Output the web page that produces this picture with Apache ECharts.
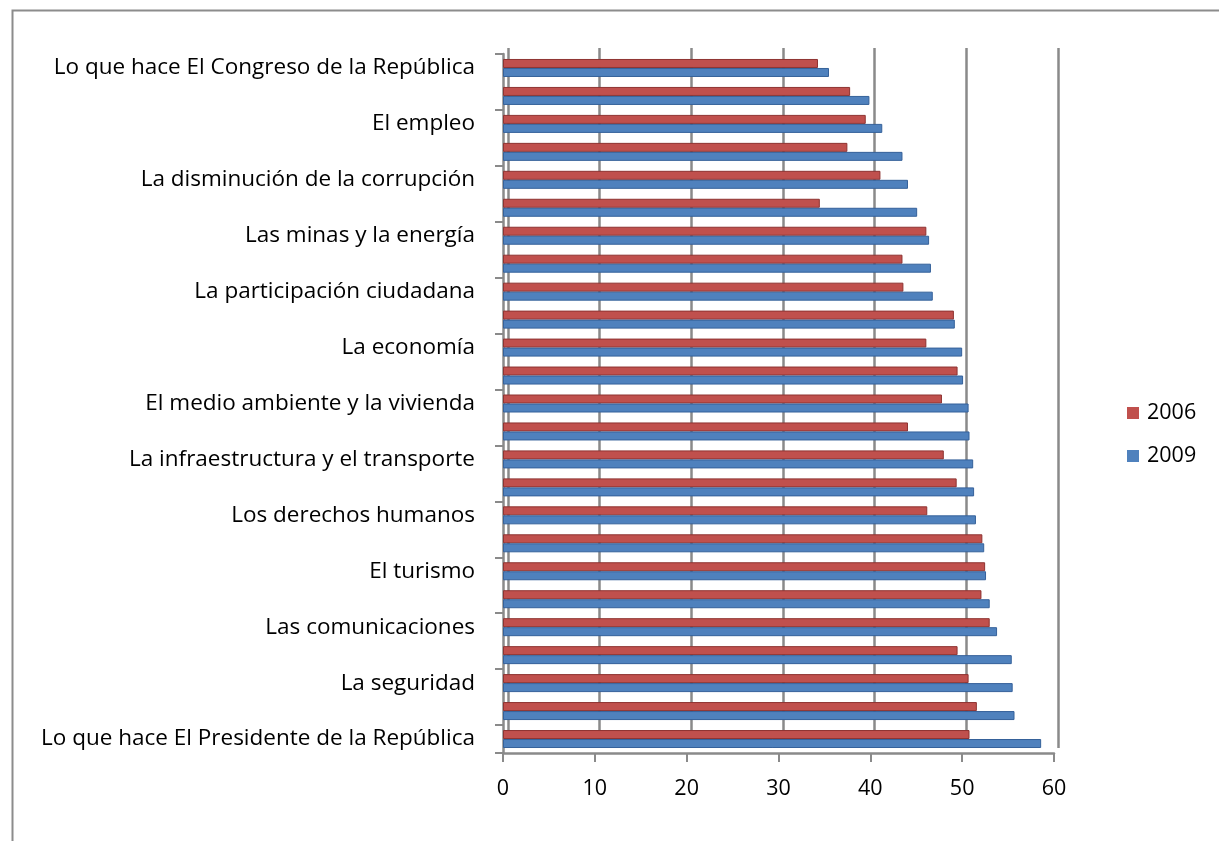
<!DOCTYPE html>
<html>
<head>
<meta charset="utf-8">
<script src="https://cdn.jsdelivr.net/npm/echarts@6/dist/echarts.min.js"></script>
<style>
  html, body { margin: 0; padding: 0; background: #ffffff; }
  #chart { width: 1219px; height: 841px; }
</style>
</head>
<body>
<div id="chart"></div>
<script>
// Categories, top to bottom (only every other one is labelled in the original)
const categories = [
  "Lo que hace El Congreso de la República",
  "Categoría 2",
  "El empleo",
  "Categoría 4",
  "La disminución de la corrupción",
  "Categoría 6",
  "Las minas y la energía",
  "Categoría 8",
  "La participación ciudadana",
  "Categoría 10",
  "La economía",
  "Categoría 12",
  "El medio ambiente y la vivienda",
  "Categoría 14",
  "La infraestructura y el transporte",
  "Categoría 16",
  "Los derechos humanos",
  "Categoría 18",
  "El turismo",
  "Categoría 20",
  "Las comunicaciones",
  "Categoría 22",
  "La seguridad",
  "Categoría 24",
  "Lo que hace El Presidente de la República"
];
const values2006 = [34.3, 37.8, 39.5, 37.5, 41.1, 34.5, 46.1, 43.5, 43.6, 49.1, 46.1, 49.5, 47.8,
                    44.1, 48.0, 49.4, 46.2, 52.2, 52.5, 52.1, 53.0, 49.5, 50.7, 51.6, 50.8];
const values2009 = [35.5, 39.9, 41.3, 43.5, 44.1, 45.1, 46.4, 46.6, 46.8, 49.2, 50.0, 50.1, 50.7,
                    50.8, 51.2, 51.3, 51.5, 52.4, 52.6, 53.0, 53.8, 55.4, 55.5, 55.7, 58.6];
const seriesNames = ["2006", "2009"];
const xTicks = { min: 0, max: 60, interval: 10 };

const FONT = '"Open Sans", Lato, sans-serif';
const GRID_GREY = '#8a8a8a';

const chart = echarts.init(document.getElementById('chart'), null, { renderer: 'canvas' });

const option = {
  backgroundColor: '#ffffff',
  animation: false,
  graphic: [{
    type: 'rect',
    left: 10, top: 8,
    shape: { width: 1400, height: 1000 },
    style: { fill: 'none', stroke: '#8c8c8c', lineWidth: 2 },
    silent: true, z: -10
  }],
  legend: {
    orient: 'vertical',
    left: 1122,
    top: 396,
    itemWidth: 12,
    itemHeight: 12,
    itemGap: 19,
    icon: 'rect',
    data: seriesNames,
    itemStyle: { borderWidth: 0 },
    textStyle: { fontFamily: FONT, fontSize: 21.5, color: '#000', lineHeight: 24, padding: [0, 0, 0, 3] }
  },
  grid: [
    { left: 503, right: 165, top: 54, bottom: 88, containLabel: false },
    { left: 508, right: 161, top: 48, bottom: 93, containLabel: false }
  ],
  xAxis: [
    {
      type: 'value', gridIndex: 0,
      min: xTicks.min, max: xTicks.max, interval: xTicks.interval,
      axisLine: { show: true, lineStyle: { color: GRID_GREY, width: 2.5 } },
      axisTick: { show: true, length: 9, lineStyle: { color: GRID_GREY, width: 2 } },
      axisLabel: { fontFamily: FONT, fontSize: 21.5, color: '#000', margin: 25 },
      splitLine: { show: false }
    },
    {
      type: 'value', gridIndex: 1,
      min: xTicks.min, max: xTicks.max, interval: xTicks.interval,
      axisLine: { show: false },
      axisTick: { show: false },
      axisLabel: { show: false },
      splitLine: { show: true, lineStyle: { color: GRID_GREY, width: 2.5 } }
    }
  ],
  yAxis: [
    {
      type: 'category', gridIndex: 0,
      data: categories,
      inverse: true,
      axisLine: { show: true, lineStyle: { color: GRID_GREY, width: 2.5 } },
      axisTick: { show: true, length: 8, lineStyle: { color: GRID_GREY, width: 2 } },
      axisLabel: { interval: 1, fontFamily: FONT, fontSize: 22.5, color: '#000', margin: 28, padding: [6, 0, 0, 0] },
      splitLine: { show: false }
    },
    {
      type: 'category', gridIndex: 1,
      data: categories,
      inverse: true,
      show: false
    }
  ],
  series: [
    {
      name: seriesNames[0], type: 'bar', xAxisIndex: 0, yAxisIndex: 0,
      data: values2006,
      barWidth: 9, barGap: '0%',
      itemStyle: { color: '#C0504D', borderColor: '#8E3331', borderWidth: 1 },
      z: 3
    },
    {
      name: seriesNames[1], type: 'bar', xAxisIndex: 0, yAxisIndex: 0,
      data: values2009,
      barWidth: 9, barGap: '0%',
      itemStyle: { color: '#4F81BD', borderColor: '#35619A', borderWidth: 1 },
      z: 3
    }
  ]
};
chart.setOption(option);
</script>
</body>
</html>
